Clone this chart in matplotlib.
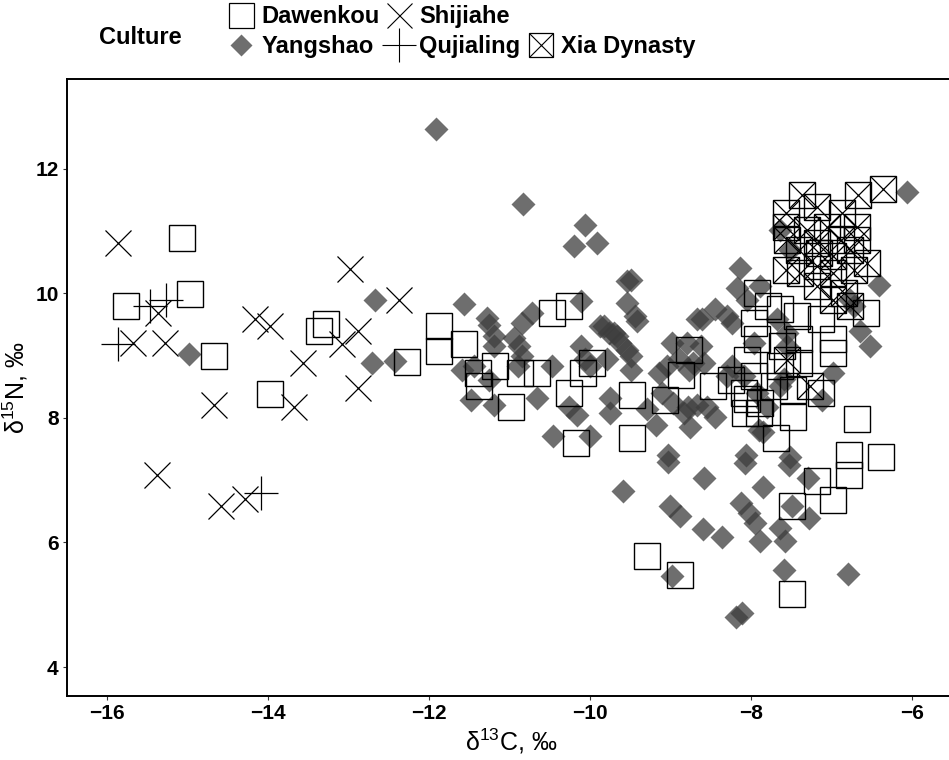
import matplotlib
matplotlib.use("Agg")
import matplotlib.pyplot as plt
from matplotlib.lines import Line2D

plt.rcParams["font.family"] = ["Liberation Sans", "DejaVu Sans"]
plt.rcParams["mathtext.fontset"] = "custom"
plt.rcParams["mathtext.rm"] = "Liberation Sans"

# --- data (delta13C, delta15N) ---
dawenkou_x = [-15.07, -15.77, -14.97, -14.67, -13.98, -13.37, -13.28, -12.28, -11.88, -11.88,
              -11.57, -10.48, -10.27, -11.39, -11.18, -10.87, -10.66, -10.09, -9.98, -11.38,
              -10.98, -10.27, -10.18, -9.48, -9.48, -9.29, -8.88, -9.07, -8.87, -8.78,
              -8.48, -8.08, -7.91, -7.48, -7.69, -7.93, -7.79, -7.97, -7.64, -7.43,
              -7.14, -6.98, -6.98, -7.41, -7.62, -7.93, -8.05, -7.64, -7.41, -7.97,
              -7.72, -7.48, -7.14, -8.09, -7.89, -6.58, -6.69, -6.79, -6.79, -6.39,
              -7.49, -7.49, -7.19, -6.99, -8.25, -8.05]
dawenkou_y = [10.89, 9.80, 9.99, 9.00, 8.39, 9.39, 9.50, 8.89, 9.48, 9.08,
              9.19, 9.68, 9.79, 8.72, 8.83, 8.72, 8.72, 8.72, 8.88, 8.51,
              8.18, 8.40, 7.59, 8.37, 7.68, 5.78, 5.48, 8.29, 8.69, 9.09,
              8.51, 8.08, 8.08, 8.02, 7.68, 10.00, 9.79, 9.52, 9.74, 9.63,
              9.58, 9.26, 9.04, 9.26, 9.15, 9.26, 8.93, 8.83, 8.88, 8.67,
              8.51, 8.45, 8.40, 8.40, 8.24, 9.68, 7.98, 7.40, 7.08, 7.37,
              5.18, 6.58, 6.98, 6.68, 8.60, 8.30]

yangshao_x = [-14.98, -12.68, -12.71, -12.42, -11.92, -10.83, -10.06, -10.20, -9.92, -9.54,
              -9.50, -11.57, -11.28, -11.26, -11.20, -11.20, -10.72, -10.85, -10.95, -10.89,
              -10.85, -10.90, -11.59, -11.45, -10.48, -10.12, -10.12, -10.06, -10.00, -9.88,
              -9.77, -9.67, -9.54, -9.63, -9.54, -9.42, -8.99, -8.80, -8.68, -9.05,
              -8.90, -8.78, -6.07, -6.42, -6.65, -6.53, -6.98, -8.14, -8.18, -7.89,
              -8.45, -8.30, -8.24, -8.61, -8.63, -8.72, -8.59, -9.15, -9.11, -8.97,
              -8.84, -8.76, -8.55, -8.45, -9.19, -9.03, -8.07, -7.52, -7.85, -9.83,
              -9.71, -9.50, -9.79, -9.50, -9.44, -8.05, -7.68, -7.97, -8.09, -7.93,
              -7.81, -7.64, -7.56, -7.56, -7.60, -8.30, -8.24, -7.64, -7.52, -6.77,
              -6.73, -11.48, -11.19, -10.66, -10.27, -10.16, -10.46, -10.00, -9.75, -9.75,
              -9.60, -8.98, -9.03, -9.01, -8.88, -8.60, -8.37, -8.59, -8.19, -8.12,
              -8.08, -7.85, -8.13, -8.03, -7.95, -7.64, -7.89, -7.58, -7.53, -7.60,
              -6.80, -7.49, -7.28, -7.29, -7.90, -7.12, -8.79, -8.68, -9.30, -11.26]
yangshao_y = [9.03, 9.90, 8.88, 8.91, 12.63, 11.43, 11.09, 10.76, 10.81, 10.19,
              10.22, 9.83, 9.60, 9.49, 9.31, 9.15, 9.68, 9.52, 9.28, 9.15,
              8.99, 8.83, 8.77, 8.83, 8.83, 9.87, 9.15, 8.94, 8.83, 9.47,
              9.36, 9.31, 9.09, 9.20, 9.84, 9.55, 9.20, 9.20, 9.58, 8.83,
              8.94, 8.77, 11.63, 10.14, 9.39, 9.15, 8.72, 10.41, 10.09, 10.11,
              9.74, 9.63, 9.52, 9.58, 9.15, 8.88, 8.88, 8.72, 8.40, 8.24,
              8.08, 7.86, 8.18, 8.02, 7.89, 7.40, 7.40, 7.37, 7.78, 9.47,
              9.36, 8.99, 8.94, 8.77, 9.63, 9.90, 9.58, 9.20, 8.67, 8.40,
              8.18, 8.51, 9.36, 9.15, 8.62, 8.67, 8.83, 11.02, 10.70, 9.90,
              9.79, 8.28, 8.21, 8.32, 8.18, 8.05, 7.71, 7.71, 8.08, 8.32,
              6.83, 5.46, 7.29, 6.58, 6.42, 6.21, 6.09, 7.04, 4.81, 4.87,
              7.28, 6.89, 6.63, 6.47, 6.31, 6.23, 6.02, 6.02, 7.25, 5.56,
              5.50, 6.58, 6.39, 7.04, 7.81, 8.29, 8.17, 8.21, 8.15, 8.60]

shijiahe_x = [-15.87, -15.37, -15.68, -15.28, -14.68, -13.68, -15.38, -14.59, -14.29, -14.17,
              -13.98, -12.98, -13.08, -12.88, -13.57, -12.88, -12.38]
shijiahe_y = [10.80, 9.68, 9.20, 9.20, 8.20, 8.18, 7.09, 6.59, 6.70, 9.59,
              9.48, 10.39, 9.18, 9.39, 8.88, 8.48, 9.89]

qujialing_x = [-15.47, -15.27, -15.87, -14.09]
qujialing_y = [9.79, 9.90, 9.19, 6.79]

xia_x = [-7.37, -6.68, -6.37, -7.18, -7.57, -6.87, -7.57, -7.31, -7.06, -6.69,
         -7.56, -7.18, -6.89, -6.69, -7.41, -7.16, -6.98, -6.77, -7.57, -7.18,
         -6.98, -6.56, -6.73, -7.39, -7.18, -6.85, -6.77, -6.98, -7.27, -7.56]
xia_y = [11.58, 11.58, 11.67, 11.38, 11.29, 11.29, 11.07, 11.02, 11.07, 11.07,
         10.86, 10.81, 10.86, 10.86, 10.70, 10.65, 10.60, 10.70, 10.38, 10.43,
         10.33, 10.49, 10.38, 10.33, 10.11, 10.00, 9.79, 9.90, 8.51, 8.93]

DIAMOND = "#3d3d3d"

fig = plt.figure(figsize=(9.49, 7.60), dpi=100)
ax = fig.add_axes([67 / 949, 64 / 760, 888 / 949, 617 / 760])

ax.plot(yangshao_x, yangshao_y, ls="none", marker="D", ms=12, mfc=DIAMOND, mec="none", alpha=0.75)
ax.plot(dawenkou_x, dawenkou_y, ls="none", marker="s", ms=18.5, mfc="none", mec="black", mew=1.0)
ax.plot(shijiahe_x, shijiahe_y, ls="none", marker="x", ms=19, mec="black", mew=0.9)
ax.plot(qujialing_x, qujialing_y, ls="none", marker="+", ms=25, mec="black", mew=0.9)
ax.plot(xia_x, xia_y, ls="none", marker="s", ms=18.5, mfc="none", mec="black", mew=1.0)
ax.plot(xia_x, xia_y, ls="none", marker="x", ms=18.5, mec="black", mew=0.9)

ax.set_xlim(-16.5, -5.47)
ax.set_ylim(3.535, 13.44)
ax.set_xticks([-16, -14, -12, -10, -8, -6])
ax.set_yticks([4, 6, 8, 10, 12])
ax.set_xticklabels(["\u221216", "\u221214", "\u221212", "\u221210", "\u22128", "\u22126"])
ax.tick_params(labelsize=15, length=3, width=0.8, color="#333333", pad=3)
for lab in ax.get_xticklabels() + ax.get_yticklabels():
    lab.set_fontweight("bold")
for sp in ax.spines.values():
    sp.set_linewidth(1.4)

ax.set_xlabel("\u03b4$^{13}$C, \u2030", fontsize=18, labelpad=2)
ax.set_ylabel("\u03b4$^{15}$N, \u2030", fontsize=18, labelpad=4)

# legend: column-major, one blank slot so Xia Dynasty sits in row two
sq = Line2D([], [], ls="none", marker="s", ms=18, mfc="none", mec="black", mew=0.9)
handles = [
    sq,
    Line2D([], [], ls="none", marker="D", ms=11, mfc=DIAMOND, mec="none", alpha=0.75),
    Line2D([], [], ls="none", marker="x", ms=18, mec="black", mew=0.8),
    Line2D([], [], ls="none", marker="+", ms=25, mec="black", mew=0.8),
    Line2D([], [], ls="none"),
    (Line2D([], [], ls="none", marker="s", ms=17, mfc="none", mec="black", mew=0.9),
     Line2D([], [], ls="none", marker="x", ms=17, mec="black", mew=0.8)),
]
labels = ["Dawenkou", "Yangshao", "Shijiahe", "Qujialing", "", "Xia Dynasty"]
fig.legend(handles, labels, ncol=3, loc="upper left",
           bbox_to_anchor=(228 / 949, 1 - 5 / 760), frameon=False,
           prop={"weight": "bold", "size": 17}, handlelength=1.1, handletextpad=0.3,
           columnspacing=0.3, labelspacing=0.3, borderpad=0, borderaxespad=0)
fig.text(99 / 949, 1 - 38 / 760, "Culture", fontsize=17, fontweight="bold", ha="left", va="center")

fig.savefig("out.png", dpi=100)
